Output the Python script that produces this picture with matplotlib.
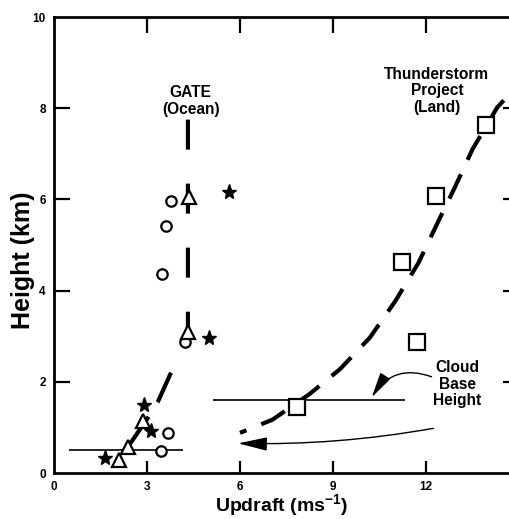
import matplotlib
matplotlib.use('Agg')
import matplotlib.pyplot as plt

plt.rcParams['font.family'] = ['Liberation Sans', 'DejaVu Sans']
plt.rcParams['mathtext.fontset'] = 'custom'
plt.rcParams['mathtext.rm'] = 'Liberation Sans'
plt.rcParams['mathtext.bf'] = 'Liberation Sans:bold'

# GATE (ocean) observations
circ_x = [3.76, 3.60, 3.49, 4.23, 3.67, 3.45]
circ_y = [5.96, 5.42, 4.36, 2.88, 0.87, 0.48]
tri_x = [4.35, 4.31, 2.86, 2.40, 2.10]
tri_y = [6.06, 3.10, 1.13, 0.58, 0.29]
star_x = [5.65, 5.00, 2.90, 3.12, 1.66]
star_y = [6.17, 2.95, 1.49, 0.93, 0.32]
gate_fit_x = [4.32, 4.32, 3.78, 3.35, 3.06, 2.24]
gate_fit_y = [7.75, 3.00, 2.21, 1.56, 1.24, 0.43]

# Thunderstorm project (land)
sq_x = [13.94, 12.32, 11.23, 11.72, 7.83]
sq_y = [7.63, 6.08, 4.63, 2.87, 1.44]
land_fit_x = [6.0, 7.05, 8.24, 9.23, 10.19, 11.0, 11.75, 12.32, 12.92, 13.5, 14.3, 14.52]
land_fit_y = [0.88, 1.17, 1.73, 2.28, 2.97, 3.76, 4.6, 5.41, 6.25, 7.1, 8.02, 8.18]

# cloud base heights
gate_base = (0.48, 4.17, 0.50)
land_base = (5.14, 11.32, 1.59)

xticks = [0, 3, 6, 9, 12]
yticks = [0, 2, 4, 6, 8, 10]
XMAX, YMAX = 15, 10

fig = plt.figure(figsize=(5.10, 5.19), dpi=100)
ax = fig.add_axes([54/510, 46/519, 465/510, 456/519])

LW = 3.0
gate_dash = [d / LW for d in (21.6, 24.5, 21.6, 24.5, 21.6, 24.5, 18, 28.6, 23.4, 12.3, 32.3, 30)]
land_dash = [d / LW for d in (19.4, 11.5)]
ax.plot(gate_fit_x, gate_fit_y, color='k', lw=LW, linestyle=(0, gate_dash))
ax.plot(land_fit_x, land_fit_y, color='k', lw=LW, linestyle=(14.4 / LW, land_dash))

ax.hlines(gate_base[2], gate_base[0], gate_base[1], color='k', lw=1.2)
ax.hlines(land_base[2], land_base[0], land_base[1], color='k', lw=1.2)

ax.plot(circ_x, circ_y, 'o', ms=7.5, mfc='white', mec='k', mew=1.6, ls='none', zorder=4)
ax.plot(tri_x, tri_y, '^', ms=10, mfc='white', mec='k', mew=1.6, ls='none', zorder=4)
ax.plot(star_x, star_y, '*', ms=11, color='k', ls='none', zorder=4)
ax.plot(sq_x, sq_y, 's', ms=11, mfc='white', mec='k', mew=1.6, ls='none', zorder=4)

ax.text(4.41, 8.16, 'GATE\n(Ocean)', ha='center', va='center', fontsize=11.2,
        fontweight='bold', linespacing=1.1)
ax.text(12.35, 8.38, 'Thunderstorm\nProject\n(Land)', ha='center', va='center',
        fontsize=11.2, fontweight='bold', linespacing=1.1)
ax.text(13.01, 1.95, 'Cloud\nBase\nHeight', ha='center', va='center',
        fontsize=11.2, fontweight='bold', linespacing=1.1)

ax.annotate('', xy=(10.25, 1.66), xytext=(12.18, 2.11),
            arrowprops=dict(arrowstyle='-|>,head_length=1.3,head_width=0.3',
                            connectionstyle='arc3,rad=0.4', color='k', lw=1,
                            mutation_scale=12, shrinkA=0, shrinkB=0))
ax.annotate('', xy=(5.94, 0.65), xytext=(12.24, 0.98),
            arrowprops=dict(arrowstyle='-|>,head_length=1.5,head_width=0.35',
                            connectionstyle='arc3,rad=-0.05', color='k', lw=1,
                            mutation_scale=12, shrinkA=0, shrinkB=0))

ax.set_xlim(0, XMAX)
ax.set_ylim(0, YMAX)
ax.set_xticks(xticks)
ax.set_yticks(yticks)
for s in ax.spines.values():
    s.set_linewidth(2)
ax.tick_params(axis='both', direction='in', length=0, labelsize=8.5, pad=6)
for lab in ax.get_xticklabels() + ax.get_yticklabels():
    lab.set_fontweight('bold')

# inward tick marks in data units (bottom 12 px, others 16 px)
bot_len = 12 / 456 * YMAX
top_len = 16 / 456 * YMAX
side_len = 16 / 465 * XMAX
ax.vlines(xticks[1:], 0, bot_len, color='k', lw=1.6, zorder=3)
ax.vlines(xticks[1:], YMAX - top_len, YMAX, color='k', lw=1.6, zorder=3)
ax.hlines(yticks[1:-1], 0, side_len, color='k', lw=1.6, zorder=3)
ax.hlines(yticks[1:-1], XMAX - side_len, XMAX, color='k', lw=1.6, zorder=3)

fig.text(282/510, 7/519, 'Updraft (ms$^{\\mathbf{-1}}$)', ha='center', va='baseline',
         fontsize=14, fontweight='bold')
fig.text(23/510, 259/519, 'Height (km)', ha='center', va='center', rotation=90,
         fontsize=18, fontweight='bold')

fig.savefig('out.png', dpi=100)
